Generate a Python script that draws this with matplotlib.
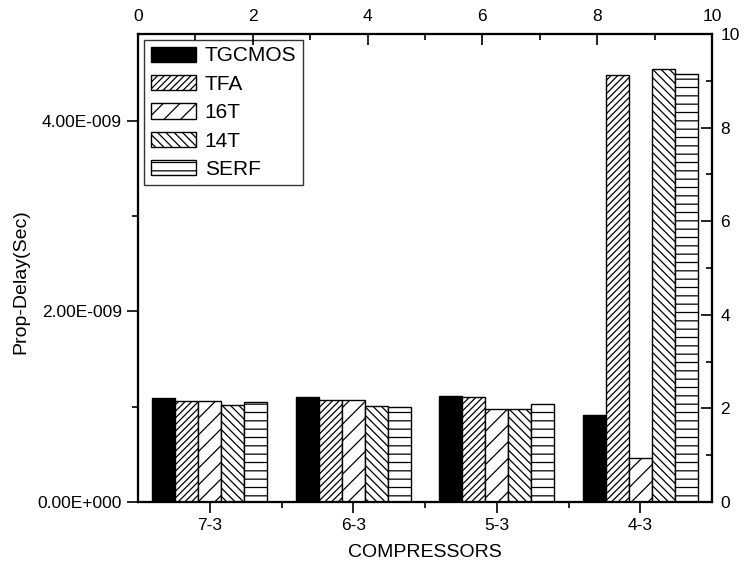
import matplotlib
matplotlib.use('Agg')
import matplotlib.pyplot as plt
import numpy as np
from matplotlib.ticker import FuncFormatter, MultipleLocator

plt.rcParams['font.family'] = ['Liberation Sans', 'DejaVu Sans']
plt.rcParams['hatch.linewidth'] = 0.9

# data
categories = ['7-3', '6-3', '5-3', '4-3']
series_names = ['TGCMOS', 'TFA', '16T', '14T', 'SERF']
tgcmos = [1.095e-9, 1.105e-9, 1.115e-9, 0.915e-9]
tfa = [1.063e-9, 1.075e-9, 1.105e-9, 4.48e-9]
t16 = [1.063e-9, 1.070e-9, 0.980e-9, 0.46e-9]
t14 = [1.020e-9, 1.010e-9, 0.975e-9, 4.54e-9]
serf = [1.050e-9, 1.000e-9, 1.030e-9, 4.49e-9]

values = [tgcmos, tfa, t16, t14, serf]
hatches = [None, '/////', '//', '\\\\\\\\', '--']
faces = ['black', 'white', 'white', 'white', 'white']


def sci_fmt(v, pos):
    if v == 0:
        return '0.00E+000'
    exp = int(np.floor(np.log10(abs(v)) + 1e-9))
    mant = v / 10 ** exp
    sign = '-' if exp < 0 else '+'
    return '%.2fE%s%03d' % (mant, sign, abs(exp))


fig = plt.figure(figsize=(7.44, 5.69), dpi=100)
ax = fig.add_axes([0.1855, 0.1178, 0.7715, 0.8225])

x = np.arange(len(categories))
w = 0.16
for i, (name, vals) in enumerate(zip(series_names, values)):
    ax.bar(x + (i - 2) * w, vals, w, color=faces[i], edgecolor='black',
           hatch=hatches[i], linewidth=1.0, label=name)

ax.set_xlim(-0.5, 3.5)
ax.set_ylim(0, 4.91e-9)
ax.set_xticks(x)
ax.set_xticklabels(categories)
ax.set_xticks([0.5, 1.5, 2.5], minor=True)
ax.yaxis.set_major_locator(MultipleLocator(2e-9))
ax.yaxis.set_minor_locator(MultipleLocator(1e-9))
ax.yaxis.set_major_formatter(FuncFormatter(sci_fmt))
ax.tick_params(which='major', direction='out', length=8, width=1.2, labelsize=12.5)
ax.tick_params(which='minor', direction='out', length=4, width=1.2)
ax.set_xlabel('COMPRESSORS', fontsize=14, labelpad=8)
ax.set_ylabel('Prop-Delay(Sec)', fontsize=14)
ax.yaxis.set_label_coords(-0.19, 0.47)
ax.yaxis.offsetText.set_visible(False)

# extra scales on top and right, as in the original
axr = ax.twinx()
axr.set_ylim(0, 10)
axr.yaxis.set_major_locator(MultipleLocator(2))
axr.yaxis.set_minor_locator(MultipleLocator(1))
axr.tick_params(which='major', direction='in', length=8, width=1.2, labelsize=12.5, pad=6)
axr.tick_params(which='minor', direction='in', length=4, width=1.2)

axt = ax.twiny()
axt.set_xlim(0, 10)
axt.xaxis.set_major_locator(MultipleLocator(2))
axt.xaxis.set_minor_locator(MultipleLocator(1))
axt.tick_params(which='major', direction='in', length=8, width=1.2, labelsize=12.5, pad=7)
axt.tick_params(which='minor', direction='in', length=4, width=1.2)

for a in (ax, axr, axt):
    for s in a.spines.values():
        s.set_linewidth(1.5)

leg = ax.legend(loc='upper left', fontsize=15, frameon=True, fancybox=False,
                edgecolor='black', handlelength=2.2, handleheight=0.75,
                labelspacing=0.45, borderpad=0.3, handletextpad=0.4,
                borderaxespad=0.3)
leg.get_frame().set_linewidth(1.0)
leg.set_zorder(10)

fig.savefig('out.png', dpi=100)
